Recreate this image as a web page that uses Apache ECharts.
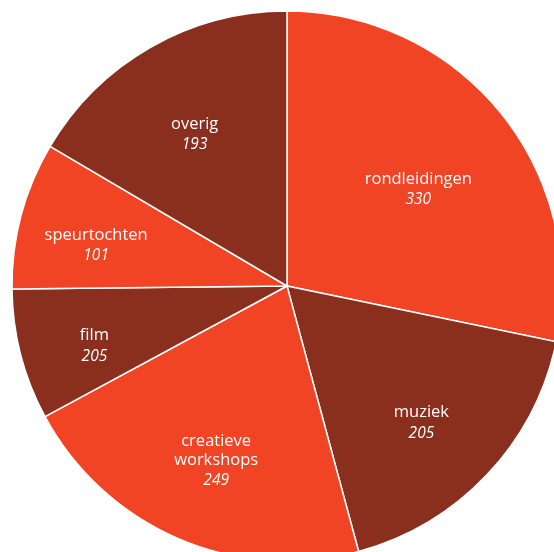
<!DOCTYPE html>
<html><head><meta charset="utf-8">
<script src="https://cdn.jsdelivr.net/npm/echarts@6/dist/echarts.min.js"></script>
<style>html,body{margin:0;padding:0;background:#fff}#c{width:554px;height:552px}</style>
</head><body><div id="c"></div>
<script>
const categories = ["rondleidingen", "muziek", "creatieve\nworkshops", "film", "speurtochten", "overig"];
// slice sizes
const values = [330, 205, 249, 90, 101, 193];
// numbers printed on the slices
const labelValues = ["330", "205", "249", "205", "101", "193"];
const colors = ["#F04424", "#8A2E1E", "#F04424", "#8A2E1E", "#F04424", "#8A2E1E"];

const CX = 287, CY = 286, R = 275;
const NAME_LH = 18.5;
const total = values.reduce((a, b) => a + b, 0);
const mids = [], spans = [];
let acc = 0;
values.forEach(v => { const s = v / total * 360; spans.push(s); mids.push(acc + s / 2); acc += s; });

const chart = echarts.init(document.getElementById('c'), null, {renderer: 'canvas'});
const data = categories.map((n, i) => ({name: n, value: values[i], shown: labelValues[i], itemStyle: {color: colors[i]}}));
chart.setOption({
  animation: false,
  series: [
    {
      type: 'pie', center: [CX, CY], radius: [0, R], startAngle: 90, clockwise: true,
      silent: true, data: data,
      itemStyle: {borderColor: '#fff', borderWidth: 1.5},
      labelLine: {show: false},
      label: {
        show: true, position: 'inside',
        formatter: p => '{n|' + p.name.split('\n').join('}\n{n|') + '}\n{v|' + p.data.shown + '}',
        rich: {
          n: {color: '#fff', fontFamily: 'Open Sans', fontSize: 16.5, lineHeight: NAME_LH},
          v: {color: '#fff', fontFamily: 'Open Sans', fontStyle: 'italic', fontSize: 15.5, lineHeight: 23}
        }
      },
      labelLayout: function (p) {
        const i = p.dataIndex;
        const d = 210 - 0.4 * spans[i];
        const a = mids[i] * Math.PI / 180;
        const nLines = categories[i].split('\n').length;
        return {
          x: CX + d * Math.sin(a),
          y: CY - d * Math.cos(a) - nLines * NAME_LH / 2,
          align: 'center', verticalAlign: 'top'
        };
      }
    }
  ]
});
</script></body></html>
